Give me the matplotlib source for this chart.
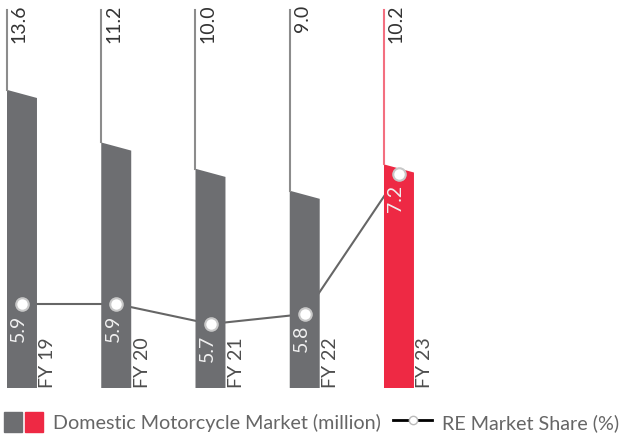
import matplotlib.pyplot as plt
import matplotlib.transforms as mtransforms
from matplotlib.patches import Polygon, Patch
from matplotlib.lines import Line2D
from matplotlib.legend_handler import HandlerTuple

plt.rcParams['font.family'] = ['Lato', 'DejaVu Sans']

years = ['FY 19', 'FY 20', 'FY 21', 'FY 22', 'FY 23']
market = [13.6, 11.2, 10.0, 9.0, 10.2]   # million units
share = [5.9, 5.9, 5.7, 5.8, 7.2]        # RE market share %

GREY = '#6d6e71'
RED = '#ee2944'
GREY_LINE = '#8c8c8c'
RED_LINE = '#f36f80'
TEXT = '#4d4d4d'

W = 0.318       # bar width
SLANT = 0.37    # drop of the top edge
LINE_TOP = 17.26
FS = 14

fig = plt.figure(figsize=(6.28, 4.38), dpi=100)
ax = fig.add_axes([0, 50 / 438, 1, 388 / 438])
ax.set_xlim(-0.0743, 6.589)
ax.set_ylim(0, 17.7)
ax.axis('off')

for i, (yr, v) in enumerate(zip(years, market)):
    col = RED if i == len(years) - 1 else GREY
    lcol = RED_LINE if i == len(years) - 1 else GREY_LINE
    poly = Polygon([(i, 0), (i, v), (i + W, v - SLANT), (i + W, 0)],
                   closed=True, facecolor=col, edgecolor='none', zorder=2)
    ax.add_patch(poly)
    ax.plot([i, i], [v, LINE_TOP], color=lcol, lw=1.5, zorder=2)
    ax.text(i + 0.04, 17.5, f'{v:.1f}', rotation=90, ha='left', va='top',
            fontsize=FS, color='#333333', zorder=4)
    ax.text(i + W + 0.025, 0, yr, rotation=90, ha='left', va='bottom',
            fontsize=FS, color=TEXT, zorder=4)

# share series mapped onto the same axes through its own scale
s_lo, s_hi = 5.06, 8.94
share_trans = (mtransforms.Affine2D().translate(0, -s_lo)
               .scale(1, 17.7 / (s_hi - s_lo)) + ax.transData)
xs = [i + 0.16 for i in range(len(share))]
ax.plot(xs, share, color='#666666', lw=1.5, transform=share_trans, zorder=1)
ax.plot(xs, share, ls='none', marker='o', ms=9, mfc='white', mec='#c8c8c8',
        mew=1.5, transform=share_trans, zorder=5)
for x, s in zip(xs, share):
    t = mtransforms.offset_copy(share_trans, fig=fig, x=-8.5, y=-7.5, units='points')
    ax.text(x, s, f'{s:.1f}', rotation=90, ha='left', va='top',
            fontsize=FS, color='#f0f0f0', transform=t, zorder=4)

handles = [(Patch(color=GREY), Patch(color=RED)),
           Line2D([], [], color='black', lw=2, marker='o', ms=6,
                  mfc='white', mec='#bbbbbb')]
labels = ['Domestic Motorcycle Market (million)', 'RE Market Share (%)']
fig.legend(handles, labels, loc='center left', bbox_to_anchor=(0.0, 16 / 438),
           ncol=2, frameon=False, labelcolor='#666666',
           prop={'size': 14.2},
           handler_map={tuple: HandlerTuple(ndivide=None, pad=0.15)},
           handlelength=2.0, handleheight=1.2, handletextpad=0.5,
           columnspacing=0.6, borderaxespad=0, borderpad=0.2)

fig.savefig('out.png', dpi=100)
